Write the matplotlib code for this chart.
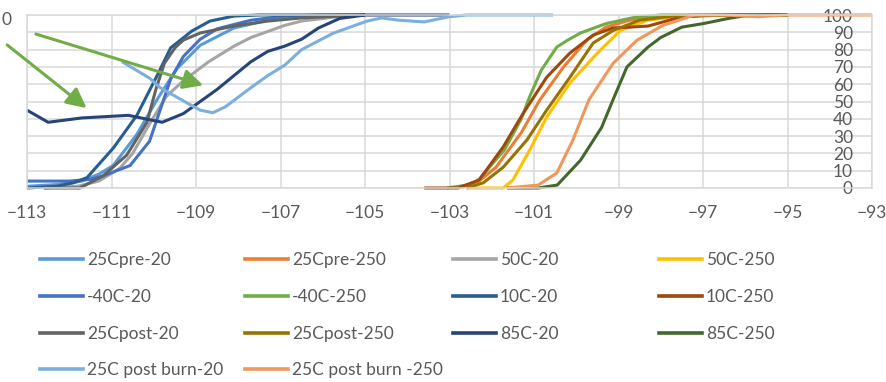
import matplotlib.pyplot as plt
from matplotlib.lines import Line2D

plt.rcParams['font.family'] = ['Lato', 'DejaVu Sans']

# series names in Excel order, with their colours
names = ['25Cpre-20', '25Cpre-250', '50C-20', '50C-250',
         '-40C-20', '-40C-250', '10C-20', '10C-250',
         '25Cpost-20', '25Cpost-250', '85C-20', '85C-250',
         '25C post burn-20', '25C post burn -250']
colors = ['#5B9BD5', '#ED7D31', '#A5A5A5', '#FFC000',
          '#4472C4', '#70AD47', '#255E91', '#9E480E',
          '#636363', '#997300', '#264478', '#43682B',
          '#7CAFDD', '#F1975A']

# values (x = level, y = percent)
x_25cpre_20 = [-113, -112.3, -111.7, -111.3, -110.96, -110.4, -109.9, -109.45, -108.9, -108.1, -107.3, -106.5, -105.5, -105]
y_25cpre_20 = [1, 2, 4, 8, 13, 31, 52, 69, 82.5, 92.5, 97, 99, 100, 100]

x_25cpre_250 = [-102.7, -102.3, -101.9, -101.3, -100.86, -100.3, -99.75, -99.3, -98.73, -97.95, -97, -95]
y_25cpre_250 = [0.5, 4, 12, 32, 51, 70, 85.5, 93, 97, 99.4, 100, 100]

x_50c_20 = [-112.6, -111.8, -111.3, -110.8, -110.5, -110.1, -109.7, -109.3, -108.7, -108.1, -107.7, -107.3, -106.9, -106.5, -105.5, -105]
y_50c_20 = [0, 1, 4, 11.5, 20, 37, 53, 62, 73, 82, 87, 90.5, 94, 96.5, 99.5, 100]

x_50c_250 = [-102.6, -102.0, -101.73, -101.5, -101.1, -100.7, -100.15, -99.5, -98.96, -98.3, -97.5, -96.5, -95]
y_50c_250 = [0, 0, 0, 4.6, 22, 41, 60.7, 78, 91, 97, 99.4, 100, 100]

x_m40c_20 = [-113, -112, -111.5, -111.2, -110.56, -110.1, -109.85, -109.6, -109.3, -108.9, -108.5, -107.7, -106.9, -106, -105]
y_m40c_20 = [4, 4, 5, 7, 13, 27, 45, 63, 76, 86, 92, 97, 99.4, 100, 100]

x_m40c_250 = [-103.06, -102.5, -102.3, -101.7, -101.3, -101.1, -100.83, -100.46, -100.2, -99.9, -99.3, -98.65, -98, -95]
y_m40c_250 = [0, 2, 5, 22, 40, 53, 68, 81.5, 85.5, 89.6, 95, 98.5, 100, 100]

x_10c_20 = [-113, -112.3, -111.9, -111.58, -110.96, -110.4, -109.9, -109.6, -109.1, -108.67, -108.1, -107.5, -105]
y_10c_20 = [0, 1, 3, 6, 23, 42, 66, 81, 90.7, 96.5, 99.4, 100, 100]

x_10c_250 = [-103.6, -102.8, -102.3, -101.73, -101.26, -100.7, -100.15, -99.6, -99.13, -98.73, -98.3, -97.5, -96.5, -95]
y_10c_250 = [0, 0, 4.6, 23.7, 43, 64, 78, 88.4, 92.5, 93, 93.6, 99, 100, 100]

x_25cpost_20 = [-112.6, -111.75, -111.2, -110.64, -110.16, -109.95, -109.75, -109.5, -109.3, -108.9, -108.1, -107.3, -106.5, -105.5, -105]
y_25cpost_20 = [0, 0, 7, 19, 38, 57, 72, 81, 85.5, 89.6, 93.6, 96.5, 98.3, 99.5, 100]

x_25cpost_250 = [-102.6, -102.2, -101.73, -101.17, -100.7, -100.15, -99.6, -99.13, -98.5, -97.7, -96.5, -95]
y_25cpost_250 = [0, 3, 12, 27.7, 45, 64, 83.8, 91, 97, 99.4, 100, 100]

x_85c_20 = [-113, -112.5, -111.7, -110.6, -109.8, -109.3, -108.9, -108.5, -108.1, -107.7, -107.3, -106.9, -106.5, -106.1, -105.6, -105, -103]
y_85c_20 = [45, 38, 40.5, 42, 38, 43, 50, 57, 65, 73, 79, 82, 86, 92.5, 98, 100, 100]

x_85c_250 = [-101.64, -100.9, -100.45, -99.9, -99.4, -99.13, -98.8, -98.3, -98.0, -97.5, -97.0, -96.4, -96.05, -95.5, -95]
y_85c_250 = [0, 0, 1.7, 16, 35, 51, 70, 81.5, 87, 93, 95, 98, 99.4, 100, 100]

x_burn_20 = [-110.75, -110.1, -109.85, -109.2, -108.9, -108.6, -108.3, -107.7, -107.3, -106.9, -106.5, -105.75, -104.95, -104.6, -104.2, -103.6, -103.0, -102.6, -100.55]
y_burn_20 = [73, 63.5, 58, 49, 45, 43.5, 47, 58, 65, 71, 80, 89.5, 96.5, 98.3, 97, 96, 99, 100, 100]

x_burn_250 = [-101.64, -100.9, -100.46, -100.08, -99.7, -99.13, -98.56, -97.95, -97.2, -96.5, -95.7, -95, -93]
y_burn_250 = [0, 1.7, 8.7, 27.7, 51, 72, 85.5, 94, 100, 100, 99, 100, 100]

xs = [x_25cpre_20, x_25cpre_250, x_50c_20, x_50c_250, x_m40c_20, x_m40c_250, x_10c_20,
      x_10c_250, x_25cpost_20, x_25cpost_250, x_85c_20, x_85c_250, x_burn_20, x_burn_250]
ys = [y_25cpre_20, y_25cpre_250, y_50c_20, y_50c_250, y_m40c_20, y_m40c_250, y_10c_20,
      y_10c_250, y_25cpost_20, y_25cpost_250, y_85c_20, y_85c_250, y_burn_20, y_burn_250]

x_ticks = list(range(-113, -92, 2))
y_ticks = list(range(0, 101, 10))

# arrows (start, tip) in data units
arrows = [((-113.47, 82.7), (-111.59, 46.2)),
          ((-112.79, 89.0), (-108.83, 59.4))]

grid_c = '#D9D9D9'
text_c = '#595959'

fig = plt.figure(figsize=(8.86, 3.82), dpi=100)
ax = fig.add_axes([27 / 886, 1 - 188 / 382, 845 / 886, 173 / 382])

for x, y, c, n in zip(xs, ys, colors, names):
    ax.plot(x, y, color=c, lw=2.2, label=n, solid_joinstyle='round',
            solid_capstyle='butt', clip_on=False)

for start, tip in arrows:
    ax.annotate('', xy=tip, xytext=start, annotation_clip=False, zorder=10,
                arrowprops=dict(arrowstyle='-|>,head_length=0.6,head_width=0.3',
                                color='#70AD47', lw=2.2, mutation_scale=20,
                                shrinkA=0, shrinkB=0))

ax.set_xlim(-113, -93)
ax.set_ylim(0, 100)
ax.set_xticks(x_ticks)
ax.set_yticks(y_ticks)
ax.grid(True, color=grid_c, lw=1.1)
ax.set_axisbelow(True)
for s in ax.spines.values():
    s.set_color(grid_c)
    s.set_linewidth(1.1)

ax.yaxis.tick_right()
ax.tick_params(axis='x', length=0, pad=12, labelsize=12.5, labelcolor=text_c)
ax.tick_params(axis='y', length=0, pad=-13.7, labelsize=12.5, labelcolor=text_c)
for lab in ax.get_yticklabels():
    lab.set_ha('right')

# stray label at the left edge of the picture
fig.text(1 / 886, 1 - 20 / 382, '0', ha='left', va='center', fontsize=12.5, color=text_c)

# legend: four columns, filled row by row
handles = [Line2D([], [], color=c, lw=2.6) for c in colors]
col_x = [40, 245, 453, 659]
for k in range(4):
    idx = list(range(k, len(names), 4))
    leg = fig.legend([handles[i] for i in idx], [names[i] for i in idx],
                     loc='upper left', bbox_to_anchor=(col_x[k] / 886, 1 - 252 / 382),
                     frameon=False, fontsize=12.5, handlelength=2.45, handletextpad=0.25,
                     labelspacing=1.2, borderpad=0, borderaxespad=0)
    for t in leg.get_texts():
        t.set_color(text_c)

fig.savefig('out.png', dpi=100)
